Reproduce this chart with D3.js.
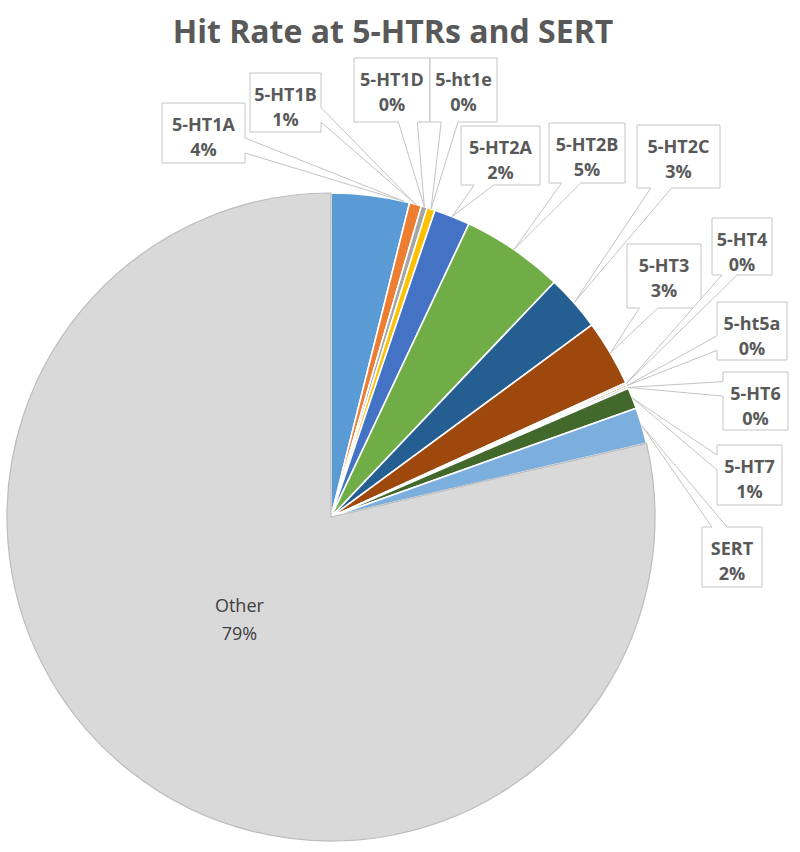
<!DOCTYPE html>
<html>
<head>
<meta charset="utf-8">
<script src="https://cdn.jsdelivr.net/npm/d3@7"></script>
<style>
  body { margin: 0; background: #fff; }
  svg { display: block; }
</style>
</head>
<body>
<svg></svg>
<script>
// chart data
var categories = ["5-HT1A", "5-HT1B", "5-HT1D", "5-ht1e", "5-HT2A", "5-HT2B", "5-HT2C",
                  "5-HT3", "5-HT4", "5-ht5a", "5-HT6", "5-HT7", "SERT", "Other"];
var hitRates = [3.9, 0.6, 0.3, 0.4, 1.8, 5.1, 2.8, 3.3, 0.1, 0.1, 0.1, 1.05, 1.8, 78.65];
var colors = ["#5B9BD5", "#ED7D31", "#A5A5A5", "#FFC000", "#4472C4", "#70AD47", "#255E91",
              "#9E480E", "#636363", "#997300", "#264478", "#43682B", "#7CAFDD", "#D9D9D9"];
var title = "Hit Rate at 5-HTRs and SERT";

// callout boxes (left, top, right, bottom) and where on the slice the tail points (0..1)
var callouts = [
    [162, 103, 245, 163, 0.93],
    [250, 73, 321, 132, 0.5],
    [354, 58, 430, 122, 0.5],
    [430, 58, 497, 122, 0.5],
    [461, 126, 540, 185, 0.5],
    [549, 123, 625, 183, 0.5],
    [637, 125, 720, 188, 0.5],
    [627, 244, 701, 308, 0.5],
    [712, 218, 772, 275, 0.5],
    [717, 302, 787, 360, 0.5],
    [723, 372, 788, 430, 0.5],
    [717, 445, 782, 505, 0.5],
    [702, 527, 762, 587, 0.5]
];

var width = 800, height = 852;
var cx = 331, cy = 517, radius = 324;

var svg = d3.select("svg")
    .attr("width", width)
    .attr("height", height);

svg.append("text")
    .attr("x", 393)
    .attr("y", 43)
    .attr("text-anchor", "middle")
    .attr("font-family", "'Open Sans', sans-serif")
    .attr("font-weight", "bold")
    .attr("font-size", 32)
    .attr("fill", "#595959")
    .text(title);

var total = d3.sum(hitRates);
var pct = d3.format(".0%");

var pie = d3.pie().sort(null).value(function (d) { return d; });
var arcs = pie(hitRates);
var arc = d3.arc().innerRadius(0).outerRadius(radius);

var g = svg.append("g").attr("transform", "translate(" + cx + "," + cy + ")");

g.selectAll("path.slice")
    .data(arcs)
    .enter()
    .append("path")
    .attr("class", "slice")
    .attr("d", arc)
    .attr("fill", function (d, i) { return colors[i]; })
    .attr("stroke", function (d, i) { return i === hitRates.length - 1 ? "#bcbcbc" : "#fff"; })
    .attr("stroke-width", function (d, i) { return i === hitRates.length - 1 ? 1.2 : 1.6; })
    .attr("stroke-linejoin", "round");

// inside label for Other
var otherArc = arcs[arcs.length - 1];
var inner = d3.arc().innerRadius(0).outerRadius(radius * 0.86).centroid(otherArc);
var otherLabel = g.append("text")
    .attr("text-anchor", "middle")
    .attr("font-family", "'Open Sans', sans-serif")
    .attr("font-size", 18)
    .attr("fill", "#404040");
otherLabel.append("tspan").attr("x", inner[0] - 5).attr("y", inner[1] - 14).text(categories[categories.length - 1]);
otherLabel.append("tspan").attr("x", inner[0] - 5).attr("y", inner[1] + 14).text(pct(hitRates[hitRates.length - 1] / total));

// Excel style wedge callout
function calloutPath(b, tip) {
    var l = b[0], t = b[1], r = b[2], bt = b[3];
    var w = r - l, h = bt - t;
    var dx = tip[0] - (l + w / 2), dy = tip[1] - (t + h / 2);
    var dq = dx * h / w;
    var p = d3.path();
    p.moveTo(l, t);
    if (Math.abs(dy) - Math.abs(dq) > 0) {
        var x1 = l + w * (dx > 0 ? 7 : 2) / 12, x2 = l + w * (dx > 0 ? 10 : 5) / 12;
        if (dy < 0) {
            p.lineTo(x1, t); p.lineTo(tip[0], tip[1]); p.lineTo(x2, t);
            p.lineTo(r, t); p.lineTo(r, bt); p.lineTo(l, bt);
        } else {
            p.lineTo(r, t); p.lineTo(r, bt);
            p.lineTo(x2, bt); p.lineTo(tip[0], tip[1]); p.lineTo(x1, bt);
            p.lineTo(l, bt);
        }
    } else {
        var y1 = t + h * (dy > 0 ? 7 : 2) / 12, y2 = t + h * (dy > 0 ? 10 : 5) / 12;
        if (dx > 0) {
            p.lineTo(r, t); p.lineTo(r, y1); p.lineTo(tip[0], tip[1]); p.lineTo(r, y2);
            p.lineTo(r, bt); p.lineTo(l, bt);
        } else {
            p.lineTo(r, t); p.lineTo(r, bt); p.lineTo(l, bt);
            p.lineTo(l, y2); p.lineTo(tip[0], tip[1]); p.lineTo(l, y1);
        }
    }
    p.closePath();
    return p.toString();
}

var labelData = callouts.map(function (c, i) {
    var a = arcs[i];
    var ang = a.startAngle + (a.endAngle - a.startAngle) * c[4];
    var tip = [cx + radius * Math.sin(ang), cy - radius * Math.cos(ang)];
    return { box: c, tip: tip, name: categories[i], value: hitRates[i] };
});

var labels = svg.selectAll("g.callout")
    .data(labelData)
    .enter()
    .append("g")
    .attr("class", "callout");

labels.append("path")
    .attr("d", function (d) { return calloutPath(d.box, d.tip); })
    .attr("fill", "#fff")
    .attr("stroke", "#c4c4c4")
    .attr("stroke-width", 1);

var txt = labels.append("text")
    .attr("text-anchor", "middle")
    .attr("font-family", "'Open Sans', sans-serif")
    .attr("font-weight", "bold")
    .attr("font-size", 18)
    .attr("fill", "#595959");
txt.append("tspan")
    .attr("x", function (d) { return (d.box[0] + d.box[2]) / 2; })
    .attr("y", function (d) { return d.box[1] + 28; })
    .text(function (d) { return d.name; });
txt.append("tspan")
    .attr("x", function (d) { return (d.box[0] + d.box[2]) / 2; })
    .attr("y", function (d) { return d.box[1] + 53; })
    .text(function (d) { return pct(d.value / total); });
</script>
</body>
</html>
